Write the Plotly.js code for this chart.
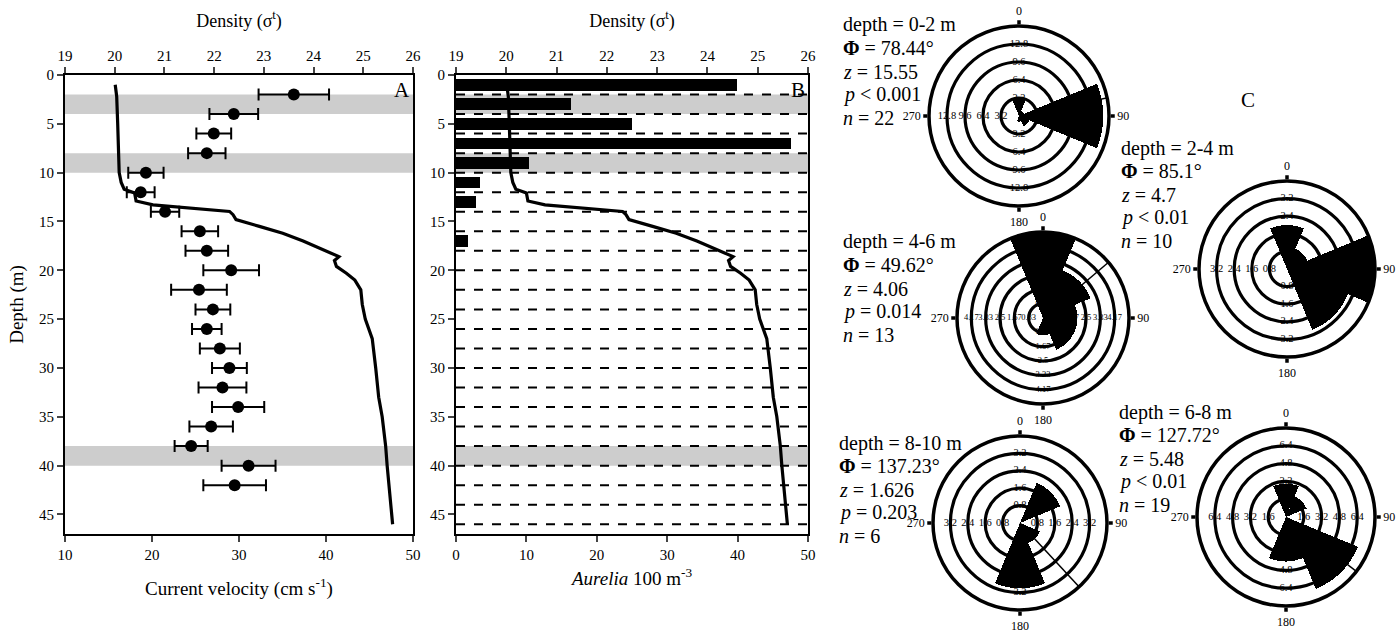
<!DOCTYPE html>
<html><head><meta charset="utf-8">
<script src="https://cdn.plot.ly/plotly-3.0.1.min.js"></script>
<style>html,body{margin:0;padding:0;background:#fff}#chart{width:1400px;height:630px}</style>
</head><body><div id="chart"></div>
<script>
// ---------- Panel A / B : density profile ----------
const profileDepth = [1.0,2.2,5,8.1,10,11.0,11.7,12.07,12.9,13.3,13.7,13.97,14.3,14.8,15.5,16.2,17,17.7,18.3,18.6,19,19.6,20.3,21,22,23.5,25,26,27,30,33,35,38,40,43,46];
const profileDensity = [20.01,20.04,20.06,20.08,20.09,20.13,20.19,20.40,20.43,20.77,21.71,22.31,22.38,22.44,22.91,23.38,23.79,24.12,24.39,24.51,24.42,24.46,24.66,24.83,24.95,24.98,25.04,25.11,25.18,25.25,25.31,25.38,25.45,25.48,25.53,25.59];

// ---------- Panel A : current velocity ----------
const velDepth = [2,4,6,8,10,12,14,16,18,20,22,24,26,28,30,32,34,36,38,40,42];
const velMean  = [36.3,29.4,27.1,26.3,19.3,18.7,21.5,25.5,26.3,29.1,25.4,27.0,26.3,27.8,28.9,28.1,29.9,26.8,24.5,31.1,29.5];
const velErr   = [4.05,2.8,2.0,2.15,2.03,1.6,1.63,2.1,2.45,3.2,3.2,2.0,1.7,2.3,2.0,2.75,3.0,2.5,1.9,3.1,3.6];

// ---------- Panel B : Aurelia abundance ----------
const binDepth = [1,3,5,7,9,11,13,15,17,19,21,23,25,27,29,31,33,35,37,39,41,43,45];
const aurelia  = [39.9,16.4,25.0,47.6,10.4,3.4,2.8,0,1.7,0,0,0,0,0,0,0,0,0,0,0,0,0,0];
const netDepths = [2,4,6,8,10,12,14,16,18,20,22,24,26,28,30,32,34,36,38,40,42,44,46];
const bandStart = [2,8,38];
const bandEnd   = [4,10,40];

// ---------- Panel C : rose diagrams ----------
const sectorAngles = [0,45,90,135,180,225,270,315];
const roseLabels = ['depth = 0-2 m','depth = 2-4 m','depth = 4-6 m','depth = 6-8 m','depth = 8-10 m'];
const rosePhi = ['78.44','85.1','49.62','127.72','137.23'];
const roseZ = ['15.55','4.7','4.06','5.48','1.626'];
const roseP = ['< 0.001','< 0.01','= 0.014','< 0.01','= 0.203'];
const roseN = ['22','10','13','19','6'];
const roseMeanDir = [78.44,85.1,49.62,127.72,137.23];
const roseCounts = [
  [3,1,15,2,1,0,0,0],
  [2,1,4,3,0,0,0,0],
  [5,3,2,2,1,0,0,0],
  [3,2,0,7,4,0,0,0],
  [0,2,0,1,3,0,0,0]
];
const roseMax = [16,4,5,8,4];
const roseRingVals = [
  [3.2,6.4,9.6,12.8],
  [0.8,1.6,2.4,3.2],
  [0.833,1.667,2.5,3.333,4.167],
  [1.6,3.2,4.8,6.4],
  [0.8,1.6,2.4,3.2]
];
const roseRingText = [
  ['3.2','6.4','9.6','12.8'],
  ['0.8','1.6','2.4','3.2'],
  ['0.83','1.67','2.5','3.33','4.17'],
  ['1.6','3.2','4.8','6.4'],
  ['0.8','1.6','2.4','3.2']
];
const axisDirs = [0,90,180,270];
const axisDirText = ['0','90','180','270'];

// ---------- geometry (pixels) ----------
const W = 1400, H = 630;
const FONT = 'Liberation Serif';
const px = v => v / W, py = v => 1 - v / H;
const roseCenters = [[1019,116],[1287,269],[1043,318],[1286,517],[1020,523]];
const roseRadius = [90,88,86,89,87];
const roseLabelSize = [10.5,10.5,8.5,10.5,10.5];
const roseTextPos = [[841,25],[1119,148],[841,242],[1117,412],[837,443]];
const LINE_STEP = 23.3;

const traces = [];
// Panel A
traces.push({type:'scatter', x:profileDensity, y:profileDepth, xaxis:'x2', yaxis:'y', mode:'lines',
  line:{color:'black', width:3.2}, hoverinfo:'skip'});
traces.push({type:'scatter', x:velMean, y:velDepth, xaxis:'x', yaxis:'y', mode:'markers',
  marker:{color:'black', size:12},
  error_x:{type:'data', array:velErr, visible:true, color:'black', thickness:2, width:6}});
// Panel B
traces.push({type:'bar', orientation:'h', x:aurelia, y:binDepth, xaxis:'x3', yaxis:'y2',
  width:1.2, marker:{color:'black', line:{width:0}}});
traces.push({type:'scatter', x:profileDensity, y:profileDepth, xaxis:'x4', yaxis:'y2', mode:'lines',
  line:{color:'black', width:3.2}, hoverinfo:'skip'});

const axFont = {family:FONT, size:15, color:'black'};
const layout = {
  width:W, height:H, margin:{l:0,r:0,t:0,b:0}, showlegend:false,
  paper_bgcolor:'white', plot_bgcolor:'rgba(0,0,0,0)',
  font:{family:FONT, color:'black', size:15},
  bargap:0,
  xaxis:{domain:[px(65),px(413)], range:[10,50], anchor:'y', tickvals:[10,20,30,40,50],
    showgrid:false, zeroline:false, showline:true, linewidth:2, linecolor:'black',
    ticks:'outside', ticklen:6, tickwidth:2, tickfont:axFont,
    title:{text:'Current velocity (cm s<sup>-1</sup>)', font:{family:FONT, size:19}, standoff:20}},
  xaxis2:{overlaying:'x', side:'top', anchor:'y', range:[19,26], tickvals:[19,20,21,22,23,24,25,26],
    showgrid:false, zeroline:false, showline:true, linewidth:2, linecolor:'black',
    ticks:'outside', ticklen:6, tickwidth:2, tickfont:axFont,
    title:{text:'Density (σ<sup>t</sup>)', font:{family:FONT, size:18}, standoff:16}},
  yaxis:{domain:[py(534),py(75)], range:[47,0], anchor:'x', tickvals:[0,5,10,15,20,25,30,35,40,45],
    showgrid:false, zeroline:false, showline:true, mirror:true, linewidth:2, linecolor:'black',
    ticks:'outside', ticklen:6, tickwidth:2, tickfont:axFont,
    title:{text:'Depth (m)', font:{family:FONT, size:19}, standoff:10}},
  xaxis3:{domain:[px(456),px(808)], range:[0,50], anchor:'y2', tickvals:[0,10,20,30,40,50],
    showgrid:false, zeroline:false, showline:true, linewidth:2, linecolor:'black',
    ticks:'outside', ticklen:6, tickwidth:2, tickfont:axFont,
    title:{text:'<i>Aurelia</i> 100 m<sup>-3</sup>', font:{family:FONT, size:19}, standoff:10}},
  xaxis4:{overlaying:'x3', side:'top', anchor:'y2', range:[19,26], tickvals:[19,20,21,22,23,24,25,26],
    showgrid:false, zeroline:false, showline:true, linewidth:2, linecolor:'black',
    ticks:'outside', ticklen:6, tickwidth:2, tickfont:axFont,
    title:{text:'Density (σ<sup>t</sup>)', font:{family:FONT, size:18}, standoff:16}},
  yaxis2:{domain:[py(534),py(75)], range:[47,0], anchor:'x3', tickvals:[0,5,10,15,20,25,30,35,40,45],
    showgrid:false, zeroline:false, showline:true, mirror:true, linewidth:2, linecolor:'black',
    ticks:'outside', ticklen:6, tickwidth:2, tickfont:axFont},
  shapes:[], annotations:[]
};

// shaded bands
for (let i=0;i<bandStart.length;i++){
  layout.shapes.push({type:'rect', xref:'x domain', yref:'y', x0:0, x1:1, y0:bandStart[i], y1:bandEnd[i],
    fillcolor:'#cdcdcd', line:{width:0}, layer:'below'});
  layout.shapes.push({type:'rect', xref:'x3 domain', yref:'y2', x0:0, x1:1, y0:bandStart[i], y1:bandEnd[i],
    fillcolor:'#cdcdcd', line:{width:0}, layer:'below'});
}
// dashed net lines in B
netDepths.forEach(d => layout.shapes.push({type:'line', xref:'x3 domain', yref:'y2', x0:0, x1:1, y0:d, y1:d,
  line:{color:'black', width:2, dash:'dash'}, layer:'below'}));

layout.annotations.push({xref:'x domain', yref:'y', x:0.998, y:1.5, text:'A', showarrow:false, xanchor:'right', font:{family:FONT, size:21}});
layout.annotations.push({xref:'x3 domain', yref:'y2', x:0.998, y:1.5, text:'B', showarrow:false, xanchor:'right', font:{family:FONT, size:21}});
layout.annotations.push({xref:'paper', yref:'paper', x:px(1257), y:py(86), text:'C', showarrow:false, font:{family:FONT, size:21}});

// rose diagrams
for (let k=0;k<5;k++){
  const sub = k===0 ? 'polar' : 'polar'+(k+1);
  const [cx,cy] = roseCenters[k], r = roseRadius[k];
  layout[sub] = {
    domain:{x:[px(cx-r), px(cx+r)], y:[py(cy+r), py(cy-r)]},
    bgcolor:'rgba(0,0,0,0)',
    radialaxis:{range:[0,roseMax[k]], tickvals:roseRingVals[k], showticklabels:false, ticks:'',
      showgrid:true, gridcolor:'black', gridwidth:3.2, showline:false},
    angularaxis:{direction:'clockwise', rotation:90, tickvals:axisDirs, ticktext:axisDirText,
      showgrid:false, showline:true, linecolor:'black', linewidth:3.5,
      ticks:'outside', ticklen:4, tickwidth:3.5, tickcolor:'black', tickfont:{family:FONT, size:12}}
  };
  traces.push({type:'barpolar', subplot:sub, r:roseCounts[k], theta:sectorAngles, width:45,
    marker:{color:'black', line:{width:0}}, hoverinfo:'skip'});
  traces.push({type:'scatterpolar', subplot:sub, mode:'lines', r:[0, roseMax[k]*1.05],
    theta:[roseMeanDir[k], roseMeanDir[k]], line:{color:'black', width:1.5}, hoverinfo:'skip'});
  // ring labels along 4 axes
  const lr=[], lt=[], ltx=[];
  axisDirs.forEach(a => roseRingVals[k].forEach((v,i) => {lr.push(v); lt.push(a); ltx.push(roseRingText[k][i]);}));
  traces.push({type:'scatterpolar', subplot:sub, mode:'text', r:lr, theta:lt, text:ltx,
    textfont:{size:roseLabelSize[k], color:'black', family:FONT}, textposition:'middle center', hoverinfo:'skip'});
  const [tx,ty] = roseTextPos[k];
  const lines = [roseLabels[k], '<b>Φ</b> = ' + rosePhi[k] + '°', '<i>z</i> = ' + roseZ[k],
                 '<i>p</i> ' + roseP[k], '<i>n</i> = ' + roseN[k]];
  lines.forEach((t,i) => layout.annotations.push({xref:'paper', yref:'paper', x:px(tx), y:py(ty + i*LINE_STEP),
    xanchor:'left', yanchor:'middle', align:'left', showarrow:false, font:{family:FONT, size:20}, text:t}));
}

Plotly.newPlot('chart', traces, layout, {displayModeBar:false, staticPlot:true});
</script></body></html>
